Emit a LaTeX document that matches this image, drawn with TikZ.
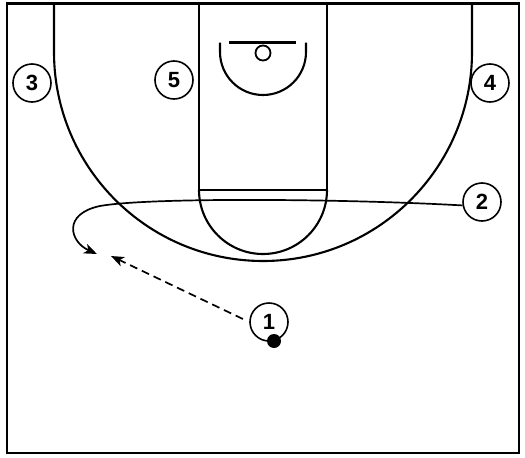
\documentclass[tikz,border=0pt]{standalone}
\usepackage{fontspec}
\setmainfont{Liberation Sans}
\usetikzlibrary{arrows.meta}
\begin{document}
\begin{tikzpicture}[x=1pt,y=-1pt,
  court/.style={line width=2.1pt,line join=miter},
  player/.style={circle,draw,line width=1.6pt,minimum size=38pt,inner sep=0pt,font=\fontsize{22}{22}\selectfont\bfseries},
  ballstyle/.style={circle,fill=black,minimum size=14pt,inner sep=0pt},
  move/.style={line width=1.7pt,-{Stealth[length=13pt,width=10pt,inset=3.5pt]}},
  pass/.style={move,dash pattern=on 8pt off 5pt}]
\useasboundingbox[fill=white] (0,0) rectangle (525,458);
% court
\draw[line width=2.4pt] (7,3.5) rectangle (519,453);
\draw[court] (54,3.5) -- (54,52) arc[start angle=180,end angle=0,radius=209] -- (472,3.5);
\draw[court] (199,3.5) -- (199,190) -- (327,190) -- (327,3.5);
\draw[court] (199,190) arc[start angle=180,end angle=0,radius=64];
\draw[court] (220,42.5) -- (220,52) arc[start angle=180,end angle=0,radius=43] -- (306,42.5);
\draw[court] (229,42.5) -- (296,42.5);
\draw[line width=1.8pt] (263,53) circle[radius=7.5];
% players
\node[player] (p3) at (32,83) {3};
\node[player] (p5) at (174,80) {5};
\node[player] (p4) at (490,83) {4};
\node[player] (p2) at (482,202) {2};
\node[player] (p1) at (269,322) {1};
\node[ballstyle] (ball) at (274,341) {};
% movements
\coordinate (cutend) at (97,254);
\coordinate (passend) at (111,256);
\draw[move] (p2.190) .. controls (350,199) and (150,197) .. (100,206) .. controls (62,214) and (70,242) .. (cutend);
\draw[pass,shorten <=7pt] (p1.west) -- (passend);
\end{tikzpicture}
\end{document}
